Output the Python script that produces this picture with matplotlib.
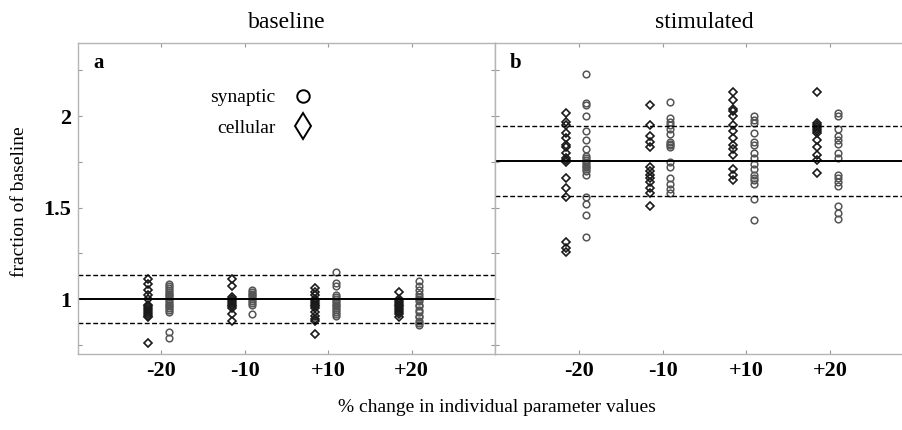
#!/usr/bin/env python
# -*- coding: utf-8 -*-

import numpy as np
import matplotlib
matplotlib.use('Agg')
import matplotlib.pyplot as plt
from matplotlib.lines import Line2D

matplotlib.rc('font', family='Liberation Serif', size=14)

# parameter perturbations (x positions 1..4)
changes = ['-20', '-10', '+10', '+20']

# baseline condition, fraction of baseline
base_cell = [
    [1.11, 1.08, 1.05, 1.02, 1.0, 0.97, 0.96, 0.95, 0.94, 0.93, 0.92, 0.91, 0.9, 0.76],
    [1.11, 1.07, 1.01, 1.0, 0.99, 0.98, 0.97, 0.96, 0.95, 0.92, 0.88],
    [1.06, 1.04, 1.02, 1.0, 0.99, 0.98, 0.97, 0.96, 0.95, 0.93, 0.91, 0.89, 0.88, 0.81],
    [1.04, 1.0, 0.99, 0.98, 0.97, 0.96, 0.95, 0.94, 0.93, 0.92, 0.9],
]
base_syn = [
    [1.08, 1.07, 1.06, 1.05, 1.04, 1.03, 1.02, 1.01, 1.0, 0.99, 0.98, 0.97, 0.96,
     0.95, 0.94, 0.93, 0.82, 0.79],
    [1.05, 1.04, 1.03, 1.02, 1.01, 1.0, 0.99, 0.98, 0.97, 0.92],
    [1.15, 1.09, 1.07, 1.02, 1.01, 1.0, 0.99, 0.98, 0.97, 0.96, 0.95, 0.94, 0.93,
     0.92, 0.91],
    [1.10, 1.07, 1.05, 1.03, 1.01, 1.0, 0.99, 0.97, 0.96, 0.94, 0.93, 0.91, 0.9,
     0.88, 0.87, 0.86],
]

# stimulated condition
stim_cell = [
    [2.02, 1.97, 1.95, 1.91, 1.88, 1.84, 1.83, 1.80, 1.77, 1.76, 1.75, 1.66, 1.61,
     1.56, 1.31, 1.28, 1.26],
    [2.06, 1.95, 1.89, 1.86, 1.83, 1.72, 1.70, 1.68, 1.66, 1.64, 1.61, 1.58, 1.51],
    [2.13, 2.09, 2.04, 2.03, 2.0, 1.95, 1.92, 1.88, 1.84, 1.82, 1.79, 1.71, 1.68, 1.65],
    [2.13, 1.96, 1.95, 1.94, 1.93, 1.92, 1.91, 1.87, 1.83, 1.79, 1.76, 1.69],
]
stim_syn = [
    [2.23, 2.07, 2.06, 2.0, 1.92, 1.87, 1.82, 1.78, 1.77, 1.76, 1.75, 1.74, 1.73,
     1.72, 1.71, 1.70, 1.68, 1.56, 1.52, 1.46, 1.34],
    [2.08, 1.99, 1.97, 1.95, 1.93, 1.90, 1.86, 1.85, 1.84, 1.83, 1.75, 1.72, 1.66,
     1.63, 1.60, 1.58],
    [2.0, 1.98, 1.96, 1.91, 1.86, 1.84, 1.80, 1.77, 1.74, 1.71, 1.68, 1.66, 1.65,
     1.63, 1.55, 1.43],
    [2.02, 2.0, 1.93, 1.89, 1.87, 1.85, 1.80, 1.77, 1.68, 1.66, 1.64, 1.62, 1.51,
     1.47, 1.44],
]

# mean and +/- 1 sd of the unperturbed model
base_mean, base_sd = 1.0, 0.13
stim_mean, stim_sd = 1.754, 0.19

fig = plt.figure(figsize=(9.03, 4.30), dpi=100)
ax1 = fig.add_axes([78/903., 1-354/430., 417/903., 311/430.])
ax2 = fig.add_axes([495/903., 1-354/430., 419/903., 311/430.])

def panel(ax, cell, syn, mean, sd, title, letter):
    for i in range(len(changes)):
        x = i + 1
        ax.plot(np.full(len(cell[i]), x - 0.155), cell[i], 'D', ms=3.7,
                mfc='none', mec='#1a1a1a', mew=1.2)
        ax.plot(np.full(len(syn[i]), x + 0.09), syn[i], 'o', ms=4.8,
                mfc='none', mec='#555555', mew=1.1)
    ax.axhline(mean, color='k', lw=1.4)
    ax.axhline(mean + sd, color='k', lw=1.0, dashes=(3.5, 1.8))
    ax.axhline(mean - sd, color='k', lw=1.0, dashes=(3.5, 1.8))
    ax.set_xlim(0, 5)
    ax.set_ylim(0.7, 2.4)
    ax.set_xticks(range(1, 5))
    ax.set_xticklabels(changes, fontweight='bold', fontsize=16)
    ax.set_yticks(np.arange(0.75, 2.3, 0.25))
    ax.set_yticklabels(['', '1', '', '1.5', '', '2', ''], fontweight='bold',
                       fontsize=16)
    ax.tick_params(direction='in', length=3, width=0.8, color='#999999',
                   top=True, right=True, pad=5)
    ax.tick_params(axis='x', pad=5)
    for s in ax.spines.values():
        s.set_color('#b4b4b4')
        s.set_linewidth(1.0)
    ax.set_title(title, fontsize=17, pad=11)
    ax.text(0.036, 0.935, letter, transform=ax.transAxes, fontweight='bold',
            fontsize=15, va='center', ha='left')

panel(ax1, base_cell, base_syn, base_mean, base_sd, 'baseline', 'a')
panel(ax2, stim_cell, stim_syn, stim_mean, stim_sd, 'stimulated', 'b')
ax2.tick_params(labelleft=False)

handles = [Line2D([], [], ls='none', marker='o', ms=9, mfc='none', mec='k', mew=1.4),
           Line2D([], [], ls='none', marker='d', ms=13, mfc='none', mec='k', mew=1.4)]
ax1.legend(handles, ['synaptic', 'cellular'], loc='center',
           bbox_to_anchor=(0.44, 0.776), frameon=False, markerfirst=False,
           handlelength=1.0, handletextpad=0.9, labelspacing=0.65, fontsize=14)

fig.text(20/903., 1-202/430., 'fraction of baseline', rotation=90,
         ha='center', va='center', fontsize=14)
fig.text(497/903., 1-408/430., '% change in individual parameter values',
         ha='center', va='center', fontsize=14)

plt.savefig('out.png', dpi=100)
